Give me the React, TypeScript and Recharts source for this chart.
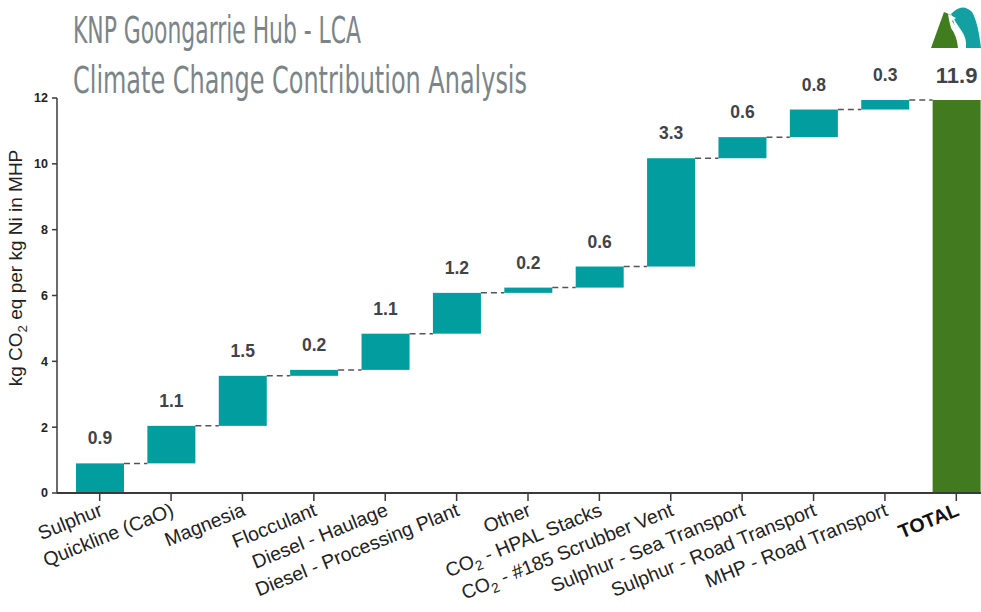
import React from "react";
import {
  ComposedChart,
  Bar,
  XAxis,
  YAxis,
  LabelList,
} from "recharts";

// contribution categories, left to right
const categories = [
  "Sulphur",
  "Quickline (CaO)",
  "Magnesia",
  "Flocculant",
  "Diesel - Haulage",
  "Diesel - Processing Plant",
  "Other",
  "CO2 - HPAL Stacks",
  "CO2 - #185 Scrubber Vent",
  "Sulphur - Sea Transport",
  "Sulphur - Road Transport",
  "MHP - Road Transport",
];
const totalName = "TOTAL";

// kg CO2 eq per kg Ni in MHP
const contributions = [0.9, 1.14, 1.52, 0.18, 1.1, 1.24, 0.16, 0.64, 3.29, 0.64, 0.84, 0.29];
const totalValue = 11.94;

const yTicks = [0, 2, 4, 6, 8, 10, 12];

const TEAL = "#029d9f";
const GREEN = "#417a1f";
const LABEL_GREY = "#3f4448";
const AXIS = "#3a3a3a";
const FONT = "'Liberation Sans', Arial, sans-serif";

const CHART_W = 1000;
const CHART_H = 612;
const MARGIN_R = 8;
const Y_AXIS_W = 57;
const PAD_L = 7;
const BAR_W = 48;

type Row = {
  name: string;
  range: [number, number];
  label: string;
  isTotal: boolean;
};

let running = 0;
const data: Row[] = categories.map((name, i) => {
  const start = running;
  running += contributions[i];
  return {
    name,
    range: [start, running],
    label: contributions[i].toFixed(1),
    isTotal: false,
  };
});
data.push({
  name: totalName,
  range: [0, totalValue],
  label: totalValue.toFixed(1),
  isTotal: true,
});

const STEP = (CHART_W - MARGIN_R - Y_AXIS_W - PAD_L) / data.length;

// renders "CO2" with a subscript 2
const withSub = (text: string, size: number) => {
  const parts = text.split("CO2");
  const out: React.ReactNode[] = [];
  parts.forEach((p, i) => {
    if (i > 0) {
      out.push(<tspan key={"c" + i}>CO</tspan>);
      out.push(
        <tspan key={"s" + i} fontSize={size * 0.7} dy={size * 0.25}>
          2
        </tspan>
      );
      out.push(
        <tspan key={"r" + i} dy={-size * 0.25}>
          {p}
        </tspan>
      );
    } else if (p) {
      out.push(<tspan key={"p" + i}>{p}</tspan>);
    }
  });
  return out;
};

const XTick = (props: any) => {
  const { x, y, payload } = props;
  const isTotal = payload.value === totalName;
  return (
    <g transform={`translate(${x + 4},${y + 12}) rotate(-22)`}>
      <text
        textAnchor="end"
        fontFamily={FONT}
        fontSize={19.5}
        fontWeight={isTotal ? 700 : 400}
        fill={isTotal ? "#111" : "#222"}
      >
        {withSub(payload.value, 19.5)}
      </text>
    </g>
  );
};

const YLabel = () => (
  <text
    transform="translate(22,268) rotate(-90)"
    textAnchor="middle"
    fontFamily={FONT}
    fontSize={19}
    fill="#222"
  >
    {withSub("kg CO2 eq per kg Ni in MHP", 19)}
  </text>
);

const WaterfallBar = (props: any) => {
  const { x, y, width, height, payload, index } = props;
  const showLink = index < data.length - 1;
  return (
    <g>
      <rect
        x={x}
        y={y}
        width={width}
        height={Math.max(height, 0.5)}
        fill={payload.isTotal ? GREEN : TEAL}
      />
      {showLink && (
        <line
          x1={x + width}
          x2={x + STEP}
          y1={y}
          y2={y}
          stroke="#555"
          strokeWidth={1.5}
          strokeDasharray="6 4"
        />
      )}
    </g>
  );
};

const ValueLabel = (props: any) => {
  const { x, y, width, value, index } = props;
  const isTotal = data[index] && data[index].isTotal;
  return (
    <text
      x={x + width / 2}
      y={y - (isTotal ? 17 : 19)}
      textAnchor="middle"
      fontFamily={FONT}
      fontSize={isTotal ? 22 : 17.5}
      fontWeight={700}
      fill={LABEL_GREY}
    >
      {value}
    </text>
  );
};

const Logo = () => (
  <g>
    <path d="M931,48 L944,12 L951,15 L955,26 L959,48 Z" fill="#3f7d1f" />
    <path
      d="M951,14 Q962,2 972,12 Q978,22 981,48 L966,48 Q967,38 961,30 Q956,23 951,14 Z"
      fill="#12a0a2"
    />
    <path
      d="M948,14 L956,18 L952,21 Q958,29 962,40 L963,48 L958,48 Q957,36 951,28 L949,20 Z"
      fill="#fff"
    />
  </g>
);

export default function App() {
  return (
    <div
      style={{
        position: "absolute",
        left: 0,
        top: 0,
        width: 981,
        height: 612,
        overflow: "hidden",
        background: "#fff",
      }}
    >
      <ComposedChart
        width={CHART_W}
        height={CHART_H}
        data={data}
        margin={{ top: 98, right: MARGIN_R, bottom: 0, left: 0 }}
      >
        <XAxis
          dataKey="name"
          interval={0}
          height={CHART_H - 98 - 395}
          padding={{ left: PAD_L, right: 0 }}
          axisLine={{ stroke: AXIS, strokeWidth: 2 }}
          tickLine={{ stroke: AXIS, strokeWidth: 1.5 }}
          tickSize={8}
          tick={<XTick />}
        />
        <YAxis
          width={Y_AXIS_W}
          domain={[0, 12]}
          ticks={yTicks}
          interval={0}
          axisLine={{ stroke: AXIS, strokeWidth: 1.5 }}
          tickLine={{ stroke: AXIS, strokeWidth: 1.5 }}
          tickSize={5}
          tickMargin={4}
          tick={{ fontFamily: FONT, fontSize: 12.5, fontWeight: 700, fill: "#222" }}
          label={<YLabel />}
        />
        <Bar
          dataKey="range"
          barSize={BAR_W}
          isAnimationActive={false}
          shape={<WaterfallBar />}
        >
          <LabelList dataKey="label" content={<ValueLabel />} />
        </Bar>
      </ComposedChart>
      <svg
        width={981}
        height={612}
        style={{ position: "absolute", left: 0, top: 0, pointerEvents: "none" }}
      >
        <text
          x={73}
          y={43}
          fontFamily="'Liberation Sans Narrow', 'DejaVu Sans Condensed', 'Liberation Sans', sans-serif"
          fontSize={37}
          fill="#7b8588"
          textLength={288}
          lengthAdjust="spacingAndGlyphs"
        >
          KNP Goongarrie Hub - LCA
        </text>
        <text
          x={73}
          y={93}
          fontFamily="'Liberation Sans Narrow', 'DejaVu Sans Condensed', 'Liberation Sans', sans-serif"
          fontSize={37}
          fill="#7b8588"
          textLength={454}
          lengthAdjust="spacingAndGlyphs"
        >
          Climate Change Contribution Analysis
        </text>
        <Logo />
      </svg>
    </div>
  );
}
